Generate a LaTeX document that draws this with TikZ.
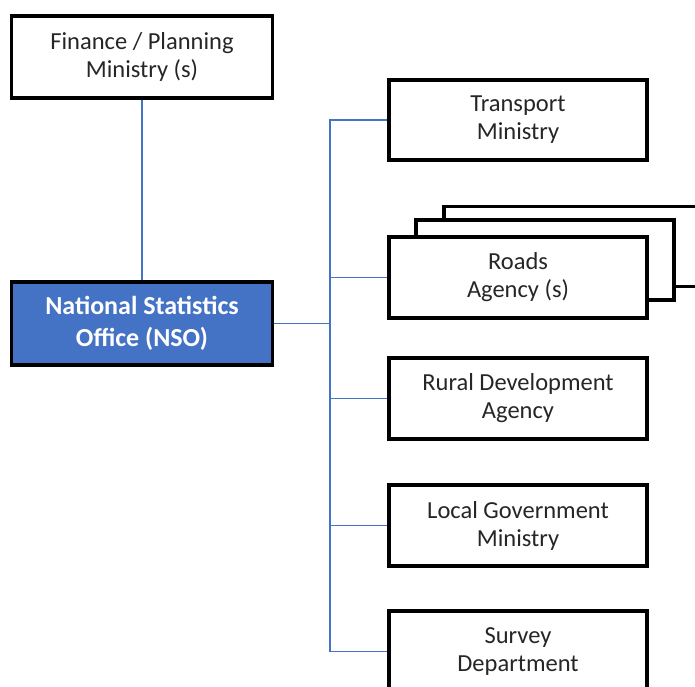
\documentclass[tikz,border=0pt]{standalone}
\usepackage{fontspec}
\setmainfont{Carlito}
\definecolor{nsoblue}{HTML}{4472C4}
\definecolor{txt}{HTML}{262626}
\begin{document}
\begin{tikzpicture}[x=1pt,y=-1pt,
  box/.style={draw=black,line width=3.6pt,fill=white,rectangle,inner sep=0pt,
    minimum width=258pt,minimum height=80pt,align=center,text=txt,
    font=\fontsize{24.5}{28}\selectfont},
  conn/.style={draw=nsoblue,line width=1.5pt}]
\useasboundingbox (0,0) rectangle (695,686);
\clip (0,0) rectangle (695,686);
% stacked back boxes
\node[box] (back3) at (573,246.5) {};
\node[box] (back2) at (545,260) {};
% main boxes
\node[box,minimum width=261pt,minimum height=82pt] (fin) at (142,57) {Finance / Planning\\Ministry (s)};
\node[box,minimum width=261pt,minimum height=83pt,fill=nsoblue,text=white,
  font=\fontsize{26}{32}\selectfont\bfseries] (nso) at (142,323.5) {National Statistics\\Office (NSO)};
\node[box] (tra) at (518,120) {Transport\\Ministry};
\node[box,minimum height=81pt] (roa) at (518,277.5) {Roads\\Agency (s)};
\node[box,minimum height=81pt] (rur) at (518,398.5) {Rural Development\\Agency};
\node[box,minimum height=81pt] (loc) at (518,525.5) {Local Government\\Ministry};
\node[box,minimum height=81pt] (sur) at (518,651.5) {Survey\\Department};
% connectors
\coordinate (bj) at (330,323.5);
\draw[conn] (fin.south) -- (nso.north);
\draw[conn] (nso.east) -- (bj);
\draw[conn] (bj) |- (tra.west);
\draw[conn] (bj) |- (roa.west);
\draw[conn] (bj) |- (rur.west);
\draw[conn] (bj) |- (loc.west);
\draw[conn] (bj) |- (sur.west);
\end{tikzpicture}
\end{document}
